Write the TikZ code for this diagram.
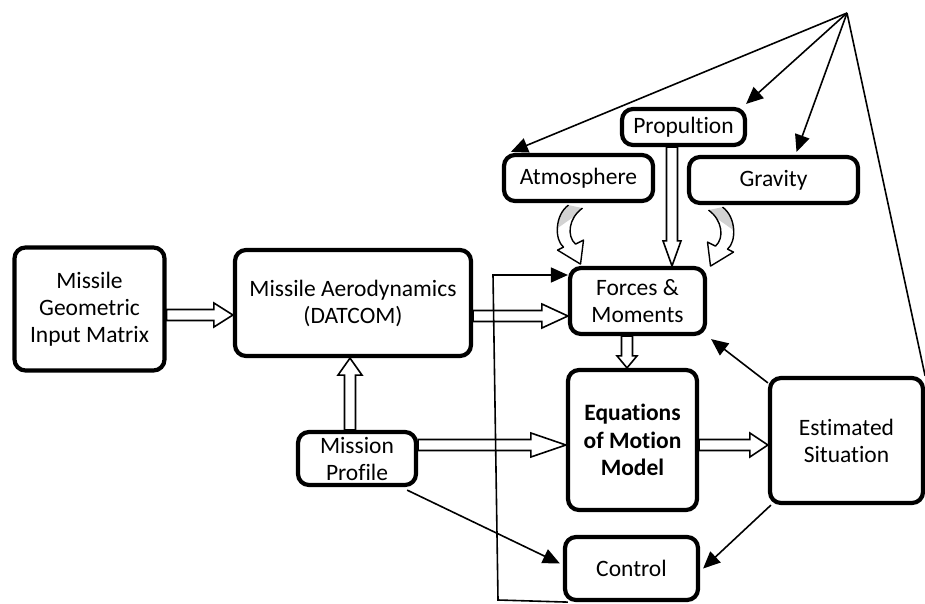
\documentclass[tikz,border=0pt]{standalone}
\usepackage{fontspec}
\setmainfont{Carlito}[RawFeature={-liga;-clig;-calt;-dlig}]
\usetikzlibrary{calc,arrows.meta}

% hollow block arrow: head length, head half width, from, to
\newcommand{\fatarrow}[4]{%
  \draw[fatline] let \p1=(#3), \p2=(#4), \n1={atan2(\y2-\y1,\x2-\x1)},
      \n2={veclen(\x2-\x1,\y2-\y1)} in
    [shift={(\p1)},rotate=\n1]
    (0,-5.5) -- (\n2-#1,-5.5) -- (\n2-#1,-#2) -- (\n2,0) -- (\n2-#1,#2)
    -- (\n2-#1,5.5) -- (0,5.5) -- cycle;}
% keep t and i apart
\newcommand{\ti}{t\kern0pt i}

\tikzset{curlarrow/.pic={
  \begin{scope}
    \clip (-14,0) .. controls (-28,10) and (-28,35) .. (-19,42) -- (-25,45) -- (-2,59)
      -- (1,35) -- (-7,39) .. controls (-16,31) and (-14,13) .. (0,3) -- cycle;
    \fill[gray!35] (-35,-2) -- (3,-2) -- (3,6) .. controls (-12,12) and (-22,22) .. (-35,30) -- cycle;
  \end{scope}
  \draw[line width=1.4pt,line join=round] (-14,0) .. controls (-28,10) and (-28,35) .. (-19,42)
    -- (-25,45) -- (-2,59) -- (1,35) -- (-7,39) .. controls (-16,31) and (-14,13) .. (0,3);
}}

\begin{document}
\begin{tikzpicture}[x=1pt,y=-1pt,
  box/.style={draw,line width=4.2pt,rounded corners=11pt,align=center,inner sep=1pt,
    font=\fontsize{23.5}{27}\selectfont},
  thinarrow/.style={line width=1.6pt,-{Triangle[length=17pt,width=15pt]}},
  fatline/.style={draw,fill=white,line width=1.6pt}]

\useasboundingbox (0,0) rectangle (925,604);

% Blocks
\node[box,minimum width=150,minimum height=123] (geom) at (89.5,309) {Missile\\Geometric\\Input Matrix};
\node[box,minimum width=236,minimum height=106] (aero) at (353,303) {Missile Aerodynamics\\(DATCOM)};
\node[box,minimum width=118,minimum height=53] (mission) at (357,458.5) {Mission\\Profile};
\node[box,minimum width=149,minimum height=46] (atm) at (578.5,178) {Atmosphere};
\node[box,minimum width=123,minimum height=36] (prop) at (683.5,127) {Propul\ti on};
\node[box,minimum width=169,minimum height=46] (grav) at (773.5,180) {Gravity};
\node[box,minimum width=135,minimum height=66] (forces) at (637.5,301) {Forces \&\\Moments};
\node[box,minimum width=129,minimum height=140,font=\fontsize{23.5}{27.5}\selectfont\bfseries] (eom) at (632.5,440) {Equa\ti ons\\of Mo\ti on\\Model};
\node[box,minimum width=133,minimum height=63] (ctrl) at (631.5,568.5) {Control};
\node[box,minimum width=153,minimum height=125] (est) at (846.5,440.5) {Estimated\\Situa\ti on};

\coordinate (apex) at (847,13);
\coordinate (loopbot) at (498,600);
\coordinate (looptop) at (493,275);

% Hollow arrows
\fatarrow{19}{12}{geom.east |- 0,315}{aero.west |- 0,315}
\fatarrow{26}{12}{aero.east |- 0,316}{forces.west |- 0,316}
\fatarrow{17}{12}{mission.north -| 350,0}{aero.south -| 350,0}
\fatarrow{25}{9}{prop.south -| 672,0}{forces.north -| 672,0}
\fatarrow{12}{10}{forces.south -| 627,0}{eom.north -| 627,0}
\fatarrow{35}{12}{mission.east |- 0,445}{eom.west |- 0,445}
\fatarrow{18}{12}{eom.east |- 0,445}{est.west |- 0,445}

% Curved arrows
\pic at ($(atm.south)+(4,2)$) {curlarrow};
\pic[xscale=-1] at ($(grav.south)+(-65,2)$) {curlarrow};

% Thin arrows
\draw[thinarrow] (apex) -- ($(atm.north west)+(9,-1)$);
\draw[thinarrow] (apex) -- ($(prop.north east)+(-1,-3)$);
\draw[thinarrow] (apex) -- ($(grav.north)+(23,-3)$);
\draw[line width=1.6pt] (apex) -- (est.north east);
\draw[thinarrow] ($(est.north west)+(0,7)$) -- ($(forces.south east)+(4,3)$);
\draw[thinarrow] ($(est.south west)+(3,0)$) -- ($(ctrl.east)+(3,0)$);
\draw[thinarrow] ($(mission.south east)+(-11,3)$) -- ($(ctrl.west)+(-3,-5)$);
\draw[thinarrow] ($(ctrl.south west)+(5,0)$) -- (loopbot) -- (looptop) -- (forces.west |- looptop);
\end{tikzpicture}
\end{document}
